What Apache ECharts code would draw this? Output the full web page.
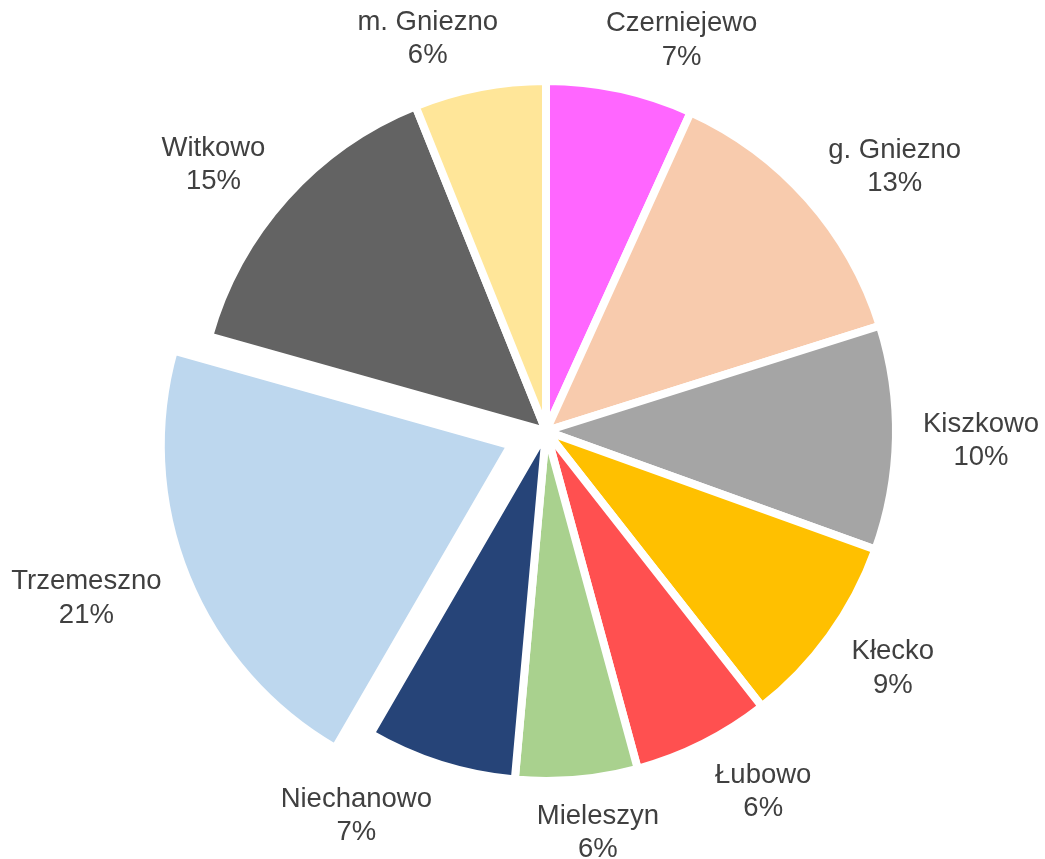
<!DOCTYPE html>
<html><head><meta charset="utf-8">
<script src="https://cdn.jsdelivr.net/npm/echarts@6/dist/echarts.min.js"></script>
<style>html,body{margin:0;padding:0;background:#fff}#chart{width:1045px;height:859px}</style>
</head><body><div id="chart"></div>
<script>
const categories = ['Czerniejewo', 'g. Gniezno', 'Kiszkowo', 'Kłecko', 'Łubowo', 'Mieleszyn', 'Niechanowo', 'Trzemeszno', 'Witkowo', 'm. Gniezno'];
const values = [6.78, 13.36, 10.36, 8.92, 6.36, 5.64, 6.94, 21.0, 14.56, 6.08];
const colors = ['#FF66FF', '#F8CBAD', '#A5A5A5', '#FFC000', '#FF5050', '#A9D18E', '#264478', '#BDD7EE', '#636363', '#FFE699'];
const explodedIndex = 7;

const CX = 546, CY = 431, RADIUS = 350, BORDER = 8, EXPLODE = 38;
const DX = 377, DY = 368, KX = 3.5, KY = 1, YS = 2;
const total = values.reduce((a, b) => a + b, 0);
const midAngles = [];
let acc = 0;
values.forEach(v => { midAngles.push((acc + v / 2) / total * 2 * Math.PI); acc += v; });
function clamp1(v) { return Math.max(-1, Math.min(1, v)); }

const pieData = categories.map((n, i) => ({
  name: n, value: values[i], selected: i === explodedIndex, itemStyle: { color: colors[i] }
}));
const labelData = categories.map((n, i) => ({ name: n, value: values[i] }));

const chart = echarts.init(document.getElementById('chart'), null, { renderer: 'canvas' });
chart.setOption({
  animation: false,
  backgroundColor: '#fff',
  series: [{
    type: 'pie',
    center: [CX, CY],
    radius: RADIUS,
    startAngle: 90,
    clockwise: true,
    selectedMode: 'single',
    selectedOffset: EXPLODE,
    itemStyle: { borderColor: '#fff', borderWidth: BORDER },
    label: { show: false },
    labelLine: { show: false },
    emphasis: { disabled: true },
    select: { itemStyle: { borderColor: '#fff', borderWidth: BORDER } },
    data: pieData
  }, {
    type: 'pie',
    silent: true,
    center: [CX, CY],
    radius: RADIUS,
    startAngle: 90,
    clockwise: true,
    avoidLabelOverlap: false,
    itemStyle: { color: 'rgba(0,0,0,0)', borderWidth: 0 },
    emphasis: { disabled: true },
    label: {
      show: true, position: 'outside', color: '#404040',
      fontFamily: '"Liberation Sans", Arial, sans-serif', fontSize: 27.5, lineHeight: 33.5,
      overflow: 'none', bleedMargin: 0,
      formatter: p => p.name + '\n' + Math.round(p.value / total * 100) + '%'
    },
    labelLine: { show: false, length: 0, length2: 0 },
    labelLayout: function (p) {
      const i = p.dataIndex, a = midAngles[i], s = Math.sin(a), c = Math.cos(a);
      let ox = CX, oy = CY;
      if (i === explodedIndex) { ox += EXPLODE * s; oy -= EXPLODE * c; }
      const w = p.labelRect.width, h = p.labelRect.height;
      return {
        x: ox + DX * s + w / 2 * clamp1(s * KX),
        y: oy + YS - DY * c - h / 2 * clamp1(c * KY),
        align: 'center', verticalAlign: 'middle'
      };
    },
    data: labelData
  }]
});
</script></body></html>
